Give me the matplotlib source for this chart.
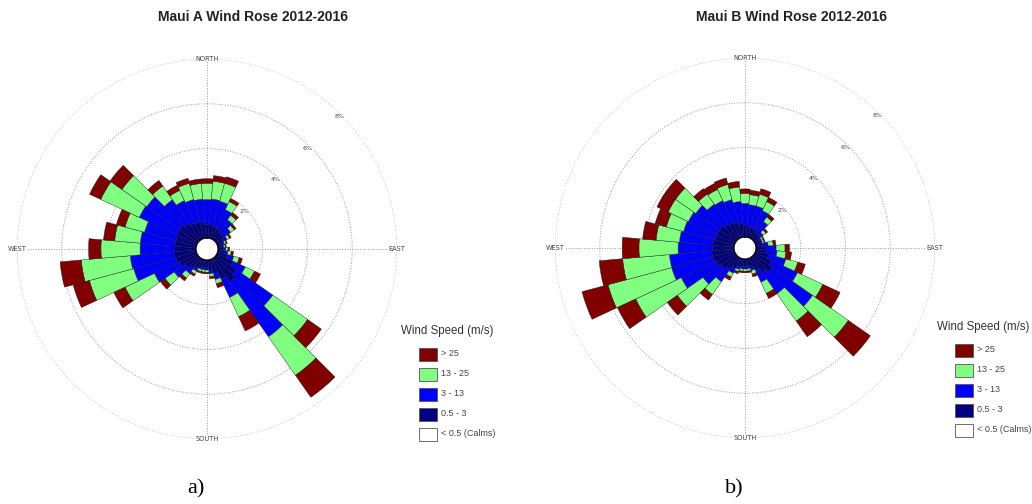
import numpy as np
import matplotlib
matplotlib.use('Agg')
from matplotlib import pyplot as plt
from matplotlib.patches import Rectangle

dirs = np.arange(0, 360, 10)

# Maui A: cumulative frequency (%) at the top of each speed class
a_top_05_3 = [0.6, 0.6, 0.55, 0.5, 0.45, 0.4, 0.3, 0.22, 0.2, 0.22, 0.28, 0.45,
              0.8, 1.1, 1.3, 1.0, 0.65, 0.45, 0.35, 0.35, 0.38, 0.45, 0.55, 0.7,
              0.85, 0.95, 1.0, 0.95, 0.95, 0.95, 1.0, 1.0, 0.9, 0.8, 0.75, 0.7]
a_top_3_13 = [1.72, 1.75, 1.72, 1.45, 1.1, 0.8, 0.5, 0.32, 0.27, 0.35, 0.45, 0.75,
              1.4, 3.1, 4.3, 1.9, 0.92, 0.62, 0.45, 0.45, 0.45, 0.6, 0.85, 1.3,
              2.1, 2.9, 2.95, 2.5, 2.5, 2.4, 2.85, 2.8, 2.2, 1.9, 1.8, 1.75]
a_top_13_25 = [2.45, 2.55, 2.55, 1.85, 1.35, 1.0, 0.62, 0.4, 0.33, 0.45, 0.6, 1.0,
               1.85, 5.0, 6.4, 2.85, 1.12, 0.75, 0.55, 0.55, 0.55, 0.75, 1.1, 1.8,
               3.55, 4.95, 5.15, 4.25, 3.65, 3.3, 4.75, 4.15, 2.95, 2.4, 2.55, 2.45]
a_top_25 = [2.65, 2.8, 2.85, 2.0, 1.5, 1.1, 0.7, 0.45, 0.38, 0.52, 0.7, 1.15,
            2.15, 5.75, 7.6, 3.55, 1.3, 0.85, 0.62, 0.62, 0.62, 0.85, 1.25, 2.05,
            4.1, 5.7, 6.1, 4.8, 4.15, 3.7, 5.3, 4.8, 3.25, 2.65, 2.78, 2.65]

# Maui B
b_top_05_3 = [0.5, 0.45, 0.45, 0.4, 0.35, 0.3, 0.22, 0.22, 0.3, 0.4, 0.45, 0.6,
              0.8, 1.0, 0.85, 0.6, 0.4, 0.35, 0.35, 0.35, 0.38, 0.5, 0.7, 0.8,
              0.9, 1.0, 1.0, 0.95, 0.95, 0.9, 0.9, 0.9, 0.8, 0.75, 0.7, 0.6]
b_top_3_13 = [1.5, 1.45, 1.45, 1.35, 0.95, 0.5, 0.32, 0.32, 0.55, 0.9, 0.95, 1.4,
              2.1, 3.2, 2.0, 1.2, 0.55, 0.45, 0.45, 0.45, 0.5, 0.75, 1.35, 1.8,
              2.65, 2.9, 2.9, 2.5, 2.45, 2.35, 2.3, 2.2, 1.9, 1.85, 1.75, 1.6]
b_top_13_25 = [1.95, 1.9, 2.0, 1.8, 1.2, 0.65, 0.4, 0.4, 0.78, 1.3, 1.35, 1.95,
               3.35, 5.15, 3.5, 1.75, 0.72, 0.55, 0.55, 0.55, 0.6, 0.95, 2.05, 3.2,
               4.9, 5.85, 5.0, 4.25, 3.5, 3.15, 3.3, 3.3, 2.45, 2.4, 2.45, 2.25]
b_top_25 = [2.15, 2.1, 2.25, 2.0, 1.35, 0.75, 0.45, 0.45, 0.9, 1.5, 1.6, 2.3,
            4.2, 6.35, 4.35, 2.0, 0.85, 0.62, 0.62, 0.62, 0.7, 1.1, 2.35, 3.75,
            5.8, 7.05, 6.05, 5.0, 4.1, 3.67, 3.85, 3.85, 2.75, 2.7, 2.75, 2.5]

classes = ['> 25', '13 - 25', '3 - 13', '0.5 - 3', '< 0.5 (Calms)']
colors = ['#800000', '#80ff80', '#0000ff', '#000080', '#ffffff']
rings = [2, 4, 6, 8]


def rose(ax, tops):
    ax.set_theta_zero_location('N')
    ax.set_theta_direction(-1)
    th = np.radians(dirs)
    w = np.radians(10)
    bottom = np.zeros(len(dirs))
    # tops go from inner (0.5-3) to outer (>25)
    for top, c in zip(tops, ['#000080', '#0000ff', '#80ff80', '#800000']):
        top = np.array(top)
        ax.bar(th, top - bottom, width=w, bottom=bottom, color=c,
               edgecolor='#1a1a1a', linewidth=0.3, zorder=2)
        bottom = top
    ax.set_ylim(0, 8)
    ax.set_rorigin(-0.49)
    ax.set_xticks(np.radians([0, 90, 180, 270]))
    ax.set_xticklabels([])
    ax.set_yticks(rings)
    ax.set_yticklabels([])
    ax.grid(True, linestyle=':', color='#9a9a9a', linewidth=0.7)
    ax.set_axisbelow(True)
    ax.spines['polar'].set_visible(False)
    ax.tick_params(length=0)
    for ang, lab in zip([0, 90, 180, 270], ['NORTH', 'EAST', 'SOUTH', 'WEST']):
        ax.text(np.radians(ang), 8, lab, fontsize=4.8, color='#444444',
                ha='center', va='center', zorder=3,
                bbox=dict(facecolor='white', edgecolor='none', pad=0.3))
    for v in rings:
        ax.text(np.radians(45), v - 0.12, '%d%%' % v, fontsize=4.6,
                color='#444444', ha='center', va='center', zorder=3,
                bbox=dict(facecolor='white', edgecolor='none', pad=0.2))


def legend(fig, x, y):
    W, H = 1032.0, 504.0
    fig.text(x / W, 1 - y / H, 'Wind Speed (m/s)', fontsize=8.3,
             family='Liberation Sans', color='#333333', va='center')
    for i, (lab, c) in enumerate(zip(classes, colors)):
        yc = y + 23 + i * 20
        fig.add_artist(Rectangle(((x + 18) / W, 1 - (yc + 6.5) / H), 18 / W, 13 / H,
                                 transform=fig.transFigure, facecolor=c,
                                 edgecolor='#555555', linewidth=0.6))
        fig.text((x + 40) / W, 1 - yc / H, lab, fontsize=6.5,
                 family='Liberation Sans', color='#444444', va='center')


fig = plt.figure(figsize=(10.32, 5.04), dpi=100)
R = 190.0
for cx, cy, tops, title, cap, tx in [
        (207, 249, [a_top_05_3, a_top_3_13, a_top_13_25, a_top_25],
         'Maui A Wind Rose 2012-2016', 'a)', 253),
        (745, 248, [b_top_05_3, b_top_3_13, b_top_13_25, b_top_25],
         'Maui B Wind Rose 2012-2016', 'b)', 791)]:
    ax = fig.add_axes([(cx - R) / 1032, (504 - cy - R) / 504, 2 * R / 1032, 2 * R / 504],
                      projection='polar')
    rose(ax, tops)
    fig.text(tx / 1032, 1 - 17 / 504, title, fontsize=10, fontweight='bold',
             family='Liberation Sans', color='#222222', ha='center', va='center')
    fig.text((cx - 11) / 1032, 1 - 489 / 504, cap, fontsize=16,
             family='Liberation Serif', ha='center', va='center')

legend(fig, 401, 331)
legend(fig, 937, 327)

fig.savefig('out.png', dpi=100)
